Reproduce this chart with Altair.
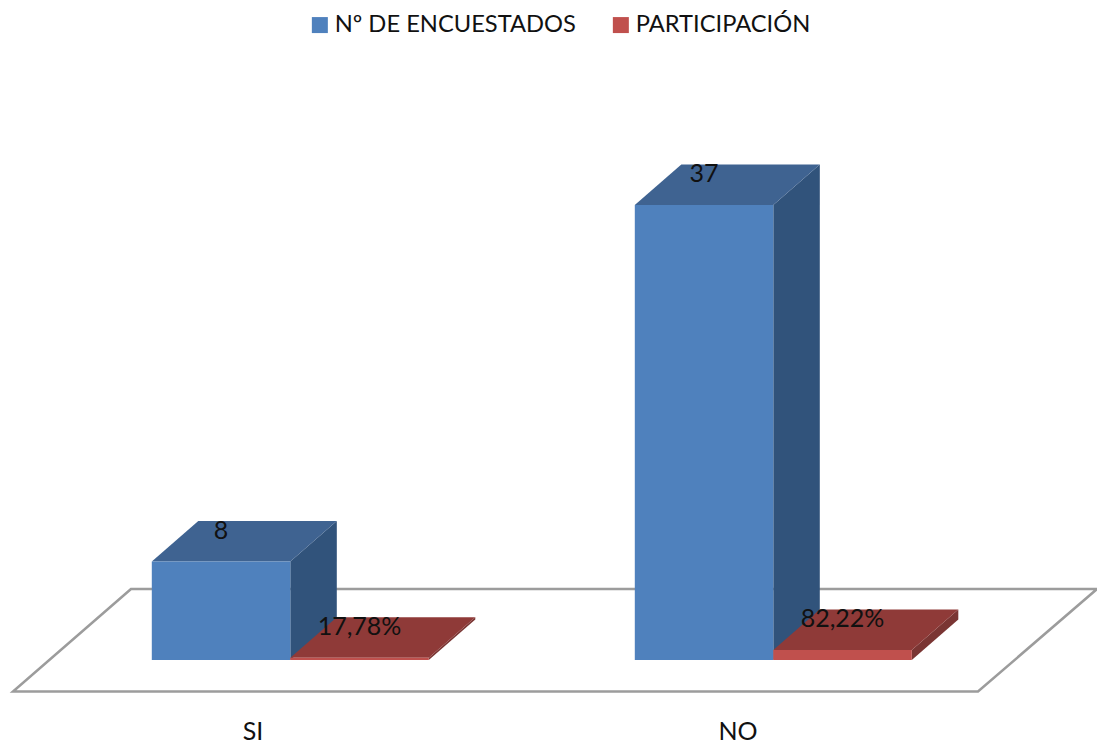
import altair as alt
import pandas as pd

# Survey results
categories = ["SI", "NO"]
encuestados = [8, 37]
participacion = [17.78, 82.22]
participacion_labels = ["17,78%", "82,22%"]
series_names = ["Nº DE ENCUESTADOS", "PARTICIPACIÓN"]

# Layout of the pseudo-3D scene
W, H = 1097, 747
PX_PER_UNIT = 12.3
BASE_Y = 660
GROUP_CENTRES = [290.3, 773.3]
BAR_W = 138.5
DEPTH_X = 46.5
DEPTH_Y = 40.5 / PX_PER_UNIT
LABEL_LIFT = 31 / PX_PER_UNIT
FONT = "Lato"

BLUE = ["#4F81BD", "#3F6391", "#31537B"]
RED = ["#C0504D", "#8F3A38", "#7A3533"]

x_scale = alt.Scale(domain=[0, W], range=[0, W], nice=False, zero=False)
y_scale = alt.Scale(
    domain=[-(H - BASE_Y) / PX_PER_UNIT, BASE_Y / PX_PER_UNIT],
    range=[H, 0], nice=False, zero=False,
)


def X(field):
    return alt.X(field, type="quantitative", scale=x_scale, axis=None)


def Y(field):
    return alt.Y(field, type="quantitative", scale=y_scale, axis=None)


# Ground plane
floor_y = [-31.5 / PX_PER_UNIT, 71 / PX_PER_UNIT]
floor = pd.DataFrame({"y": floor_y, "x": [13, 131], "x2": [978, 1097]})
floor_layer = alt.Chart(floor).mark_area(
    orient="horizontal", fill="white", stroke="#9C9C9C", strokeWidth=2.5
).encode(y=Y("y"), x=X("x"), x2="x2:Q")

fronts, tops, sides, labels = [], [], [], []
for i, centre in enumerate(GROUP_CENTRES):
    shares = participacion[i] / 100
    for s, (value, x0, text) in enumerate([
        (encuestados[i], centre - BAR_W, str(encuestados[i])),
        (shares, centre, participacion_labels[i]),
    ]):
        x1 = x0 + BAR_W
        face = f"{i}-{s}"
        fronts.append(dict(x=x0, x2=x1, y=0, y2=value, series=series_names[s]))
        tops += [
            dict(face=face, s=s, y=value, x=x0, x2=x1),
            dict(face=face, s=s, y=value + DEPTH_Y, x=x0 + DEPTH_X, x2=x1 + DEPTH_X),
        ]
        sides += [
            dict(face=face, s=s, x=x1, y=0, y2=value),
            dict(face=face, s=s, x=x1 + DEPTH_X, y=DEPTH_Y, y2=value + DEPTH_Y),
        ]
        labels.append(dict(x=(x0 + x1) / 2, y=value + LABEL_LIFT, text=text))

fronts = pd.DataFrame(fronts)
tops = pd.DataFrame(tops)
sides = pd.DataFrame(sides)
labels = pd.DataFrame(labels)


def side_layer(s, colour):
    return alt.Chart(sides[sides.s == s]).mark_area(orient="vertical", color=colour).encode(
        x=X("x"), y=Y("y"), y2="y2:Q", detail="face:N"
    )


def top_layer(s, colour):
    return alt.Chart(tops[tops.s == s]).mark_area(orient="horizontal", color=colour).encode(
        y=Y("y"), x=X("x"), x2="x2:Q", detail="face:N"
    )


front_layer = alt.Chart(fronts).mark_bar().encode(
    x=X("x"), x2="x2:Q", y=Y("y"), y2="y2:Q",
    color=alt.Color(
        "series:N",
        scale=alt.Scale(domain=series_names, range=[BLUE[0], RED[0]]),
        legend=alt.Legend(
            title=None, orient="none", legendX=308, legendY=13, direction="horizontal",
            symbolType="square", symbolSize=256, symbolStrokeWidth=0,
            labelFont=FONT, labelFontSize=23.7, labelColor="#111111",
            labelLimit=400, columnPadding=33, labelOffset=3, symbolOpacity=1,
        ),
    ),
)

value_labels = alt.Chart(labels).mark_text(
    font=FONT, fontSize=25, color="#111111", baseline="middle"
).encode(x=X("x"), y=Y("y"), text="text:N")

category_labels = alt.Chart(
    pd.DataFrame({"x": [253, 738], "y": [-72 / PX_PER_UNIT] * 2, "text": categories})
).mark_text(font=FONT, fontSize=25, color="#111111", baseline="middle").encode(
    x=X("x"), y=Y("y"), text="text:N"
)

chart = alt.layer(
    floor_layer,
    side_layer(0, BLUE[2]),
    top_layer(0, BLUE[1]),
    side_layer(1, RED[2]),
    top_layer(1, RED[1]),
    front_layer,
    value_labels,
    category_labels,
).properties(
    width=W, height=H, padding=0, autosize=alt.AutoSizeParams(type="none")
).configure_view(stroke=None)

chart.save("out.html", embed_options={"renderer": "svg", "actions": False})
